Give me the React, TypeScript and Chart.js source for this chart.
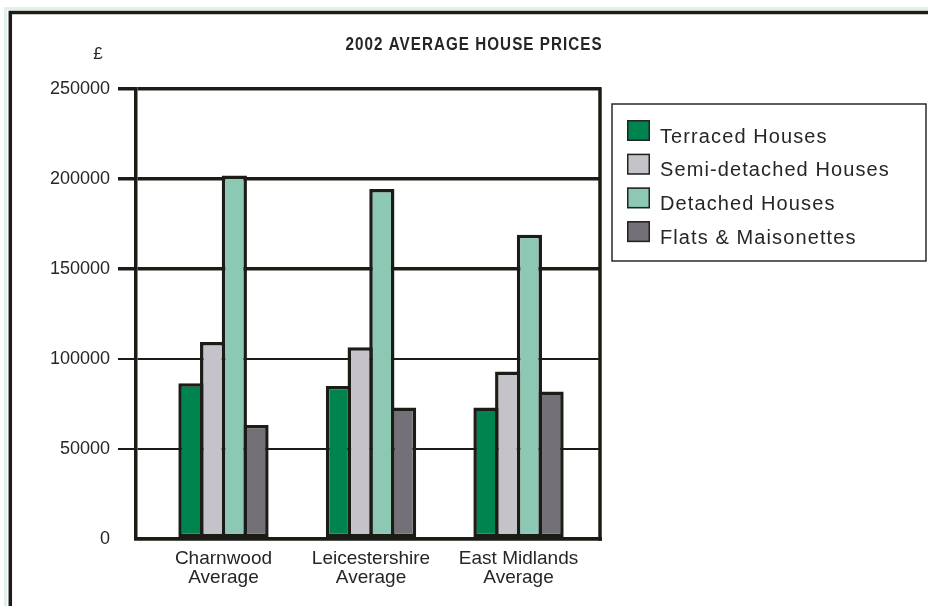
import React, { useEffect, useRef } from 'react';
import { Chart, registerables } from 'chart.js';

Chart.register(...registerables);

// ---- data ----
const CATEGORIES: string[][] = [
  ['Charnwood', 'Average'],
  ['Leicestershire', 'Average'],
  ['East Midlands', 'Average'],
];
const SERIES_LABELS = ['Terraced Houses', 'Semi-detached Houses', 'Detached Houses', 'Flats & Maisonettes'];
const TERRACED = [86500, 85000, 73000];
const SEMI_DETACHED = [109500, 106500, 93000];
const DETACHED = [202000, 194500, 169000];
const FLATS = [63300, 73000, 82000];
const SERIES_COLORS = ['#00844f', '#c5c3c9', '#8cc8b4', '#747078'];
const Y_MIN = 0;
const Y_MAX = 250000;
const Y_STEP = 50000;
const TITLE = '2002 AVERAGE HOUSE PRICES';
const CURRENCY = '£';

const LINE = '#1c1c16';
const TEXT = '#262626';
const FONT = '"Liberation Sans", Arial, sans-serif';

const decorPlugin = {
  id: 'decor',
  afterDraw(chart: any) {
    const ctx = chart.ctx as CanvasRenderingContext2D;
    const a = chart.chartArea;
    ctx.save();
    // light halo outside the frame
    ctx.strokeStyle = '#e2f0ec';
    ctx.lineWidth = 3;
    ctx.beginPath();
    ctx.moveTo(5.5, 606);
    ctx.lineTo(5.5, 8.5);
    ctx.lineTo(928, 8.5);
    ctx.stroke();
    // outer frame
    ctx.strokeStyle = LINE;
    ctx.lineWidth = 3.5;
    ctx.beginPath();
    ctx.moveTo(10.3, 606);
    ctx.lineTo(10.3, 12.5);
    ctx.lineTo(928, 12.5);
    ctx.stroke();
    // right edge of plot box
    ctx.beginPath();
    ctx.moveTo(a.right - 1, a.top - 1.75);
    ctx.lineTo(a.right - 1, a.bottom + 1.75);
    ctx.stroke();

    // title (condensed bold)
    ctx.fillStyle = TEXT;
    ctx.save();
    ctx.translate(474, 50);
    ctx.scale(0.8, 1);
    (ctx as any).letterSpacing = '1.3px';
    ctx.font = 'bold 19px ' + FONT;
    ctx.textAlign = 'center';
    ctx.textBaseline = 'alphabetic';
    ctx.fillText(TITLE, 0, 0);
    ctx.restore();

    // currency label
    (ctx as any).letterSpacing = '0px';
    ctx.fillStyle = TEXT;
    ctx.font = '17px ' + FONT;
    ctx.textAlign = 'center';
    ctx.textBaseline = 'middle';
    ctx.fillText(CURRENCY, 98, 54);

    // legend
    const lx = 612, ly = 104, lw = 314, lh = 157;
    ctx.lineWidth = 1.5;
    ctx.strokeStyle = '#2a2a2a';
    ctx.strokeRect(lx, ly, lw, lh);
    ctx.font = '20px ' + FONT;
    (ctx as any).letterSpacing = '1.1px';
    ctx.textAlign = 'left';
    ctx.textBaseline = 'alphabetic';
    chart.data.datasets.forEach((ds: any, i: number) => {
      const top = 120 + i * 33.7;
      ctx.fillStyle = ds.backgroundColor;
      ctx.fillRect(627, top, 23, 21);
      ctx.strokeStyle = '#222';
      ctx.lineWidth = 1.5;
      ctx.strokeRect(627.75, top + 0.75, 21.5, 19.5);
      ctx.fillStyle = TEXT;
      ctx.fillText(ds.label, 660, top + 22.5);
    });
    ctx.restore();
  },
};

export default function App() {
  const canvasRef = useRef<HTMLCanvasElement | null>(null);

  useEffect(() => {
    const canvas = canvasRef.current;
    if (!canvas) return;
    const seriesValues = [TERRACED, SEMI_DETACHED, DETACHED, FLATS];
    const datasets = seriesValues.map((vals, s) => ({
      label: SERIES_LABELS[s],
      data: vals.map((y, i) => ({ x: i, y })),
      backgroundColor: SERIES_COLORS[s],
      borderColor: LINE,
      borderWidth: 3.5,
      borderSkipped: false,
      barPercentage: 1.161,
      categoryPercentage: 0.5885,
    }));

    const chart = new Chart(canvas, {
      type: 'bar',
      data: { datasets } as any,
      plugins: [decorPlugin],
      options: {
        animation: false,
        responsive: false,
        devicePixelRatio: 1,
        events: [],
        layout: { padding: { top: 89, left: 0, right: 327, bottom: 0 } },
        plugins: {
          legend: { display: false },
          title: { display: false },
          tooltip: { enabled: false },
        },
        scales: {
          x: {
            type: 'linear',
            min: -0.593,
            max: 2.559,
            offset: false,
            grid: { display: false, drawTicks: false, offset: false },
            border: { display: true, width: 3.5, color: LINE },
            ticks: {
              stepSize: 1,
              includeBounds: false,
              autoSkip: false,
              maxRotation: 0,
              padding: 10.5,
              color: TEXT,
              font: { family: FONT, size: 19, lineHeight: 1.0 },
              callback: (v: any) => CATEGORIES[v as number] ?? '',
            },
            afterFit: (scale: any) => {
              scale.height = 67;
            },
          },
          y: {
            type: 'linear',
            min: Y_MIN,
            max: Y_MAX,
            grid: {
              color: LINE,
              drawTicks: true,
              tickLength: 18,
              lineWidth: (c: any) => (c.tick && c.tick.value >= 150000 ? 3.5 : c.tick && c.tick.value === 0 ? 3.5 : 2),
              tickColor: (c: any) => (c.tick && c.tick.value === 0 ? 'rgba(0,0,0,0)' : LINE),
            },
            border: { display: true, width: 3.5, color: LINE },
            ticks: {
              stepSize: Y_STEP,
              padding: 8,
              color: TEXT,
              font: { family: FONT, size: 18 },
              callback: (v: any) => String(v),
            },
            afterFit: (scale: any) => {
              scale.width = 136;
            },
          },
        },
      } as any,
    });
    return () => chart.destroy();
  }, []);

  return (
    <div style={{ position: 'fixed', left: 0, top: 0, width: 928, height: 606, background: '#fff' }}>
      <canvas ref={canvasRef} width={928} height={606} style={{ display: 'block' }} />
    </div>
  );
}
